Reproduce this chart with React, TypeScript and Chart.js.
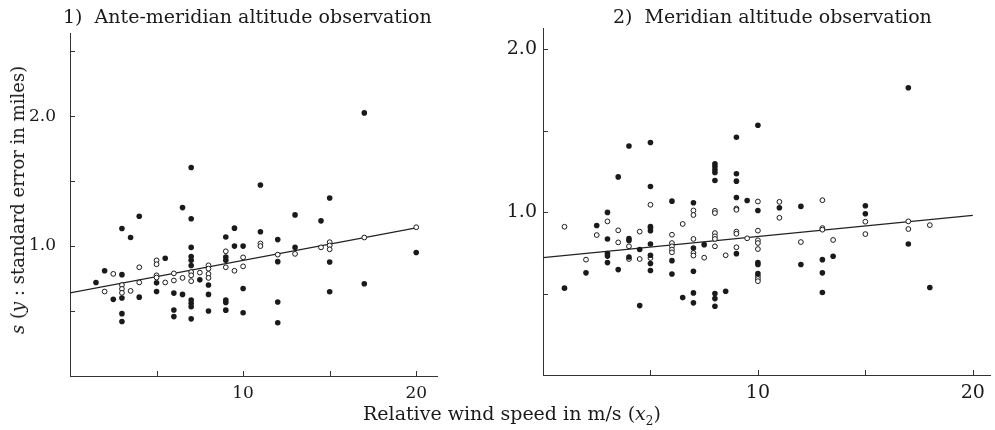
import React, { useEffect, useRef } from "react";
import { Chart, registerables } from "chart.js";
Chart.register(...registerables);

const FONT_FAMILY = '"DejaVu Serif", "Liberation Serif", serif';
const INK = "#1a1a1a";

// ---------- Panel 1: Ante-meridian altitude observation ----------
const p1FilledX = [1.5, 2, 2.5, 3, 3, 3, 3, 3, 3.5, 4, 4, 5, 5, 5.5, 6, 6, 6, 6.5, 6.5, 7, 7, 7, 7, 7, 7, 7, 7, 7, 7, 7.5, 8, 8, 8, 9, 9, 9, 9, 9, 9, 9.5, 9.5, 10, 10, 10, 11, 11, 12, 12, 12, 12, 13, 13, 14.5, 15, 15, 15, 17, 17, 20];
const p1FilledY = [0.72, 0.81, 0.59, 1.135, 0.78, 0.6, 0.48, 0.42, 1.066, 1.23, 0.607, 0.717, 0.65, 0.906, 0.638, 0.508, 0.457, 1.296, 0.628, 1.605, 1.21, 0.99, 0.92, 0.89, 0.85, 0.584, 0.56, 0.533, 0.44, 0.74, 0.7, 0.628, 0.5, 1.07, 0.916, 0.89, 0.584, 0.566, 0.507, 1.138, 1.0, 1.0, 0.673, 0.487, 1.47, 1.11, 1.05, 0.88, 0.57, 0.41, 1.24, 0.99, 1.194, 1.37, 0.877, 0.648, 2.025, 0.71, 0.95];
const p1OpenX = [2, 2.5, 3, 3, 3, 3.5, 4, 4, 5, 5, 5, 5, 5.5, 6, 6, 6.5, 7, 7, 7, 7.5, 8, 8, 8, 8, 9, 9, 9.5, 10, 10, 11, 11, 12, 13, 14.5, 15, 15, 15, 17, 20];
const p1OpenY = [0.65, 0.786, 0.7, 0.67, 0.64, 0.655, 0.837, 0.72, 0.89, 0.86, 0.775, 0.758, 0.72, 0.79, 0.735, 0.755, 0.8, 0.775, 0.73, 0.796, 0.852, 0.826, 0.786, 0.755, 0.96, 0.837, 0.81, 0.913, 0.844, 1.02, 1.0, 0.934, 0.94, 0.99, 1.03, 1.005, 0.975, 1.066, 1.145];
const p1LineX = [0, 20];
const p1LineY = [0.64, 1.14];

// ---------- Panel 2: Meridian altitude observation ----------
const p2FilledX = [1, 2, 2.5, 3, 3, 3, 3, 3, 3.5, 3.5, 4, 4, 4, 4, 4.5, 4.5, 5, 5, 5, 5, 5, 5, 5, 5, 6, 6, 6, 6.5, 7, 7, 7, 7, 7, 7.5, 8, 8, 8, 8, 8, 8, 8, 8, 8.5, 9, 9, 9, 9, 9, 9.5, 10, 10, 10, 10, 10, 11, 12, 12, 13, 13, 13, 13.5, 15, 15, 17, 17, 18];
const p2FilledY = [0.533, 0.627, 0.918, 0.998, 0.835, 0.745, 0.73, 0.69, 1.216, 0.647, 1.406, 0.837, 0.826, 0.724, 0.77, 0.426, 1.427, 1.157, 0.912, 0.886, 0.804, 0.735, 0.684, 0.641, 1.067, 0.702, 0.62, 0.475, 1.057, 0.78, 0.637, 0.504, 0.443, 0.8, 1.296, 1.28, 1.26, 1.243, 1.194, 0.5, 0.469, 0.422, 0.514, 1.459, 1.235, 1.19, 1.09, 0.745, 1.071, 1.533, 1.01, 0.69, 0.678, 0.622, 1.027, 1.035, 0.678, 0.708, 0.627, 0.506, 0.729, 1.039, 0.99, 1.763, 0.804, 0.537];
const p2OpenX = [1, 2, 2.5, 3, 3.5, 3.5, 4, 4, 4.5, 4.5, 5, 5, 5, 6, 6, 6, 6, 6, 6.5, 7, 7, 7, 7, 7, 7.5, 8, 8, 8, 8, 8, 8, 8.5, 9, 9, 9, 9, 9, 9.5, 10, 10, 10, 10, 10, 10, 10, 10, 11, 11, 12, 13, 13, 13, 13.5, 15, 15, 17, 17, 18];
const p2OpenY = [0.91, 0.708, 0.859, 0.943, 0.888, 0.814, 0.79, 0.712, 0.88, 0.712, 1.045, 0.902, 0.718, 0.861, 0.81, 0.79, 0.77, 0.753, 0.927, 1.01, 0.982, 0.835, 0.749, 0.733, 0.72, 1.008, 0.994, 0.871, 0.851, 0.835, 0.79, 0.735, 1.022, 1.014, 0.88, 0.867, 0.784, 0.839, 1.065, 0.886, 0.827, 0.81, 0.773, 0.606, 0.59, 0.576, 1.063, 0.965, 0.816, 1.073, 0.902, 0.892, 0.829, 0.941, 0.865, 0.943, 0.896, 0.92];
const p2LineX = [0, 20];
const p2LineY = [0.72, 0.98];

// ---------- Axis ticks ----------
const xTickMarks = [5, 10, 15, 20];
const xTickLabels = [10, 20];
const yTickMarks = [0.5, 1.0, 1.5, 2.0, 2.5];
const yTickLabels = [1.0, 2.0];

const zip = (xs: number[], ys: number[]) => xs.map((x, i) => ({ x, y: ys[i] }));

const inwardTicks = {
  id: "inwardTicks",
  afterDatasetsDraw(chart: any) {
    const { ctx, chartArea, scales } = chart;
    const xs = scales.x;
    const ys = scales.y;
    ctx.save();
    ctx.strokeStyle = "#333";
    ctx.lineWidth = 1;
    ctx.beginPath();
    xTickMarks.forEach((v) => {
      if (v > xs.max) return;
      const px = Math.round(xs.getPixelForValue(v)) + 0.5;
      ctx.moveTo(px, chartArea.bottom);
      ctx.lineTo(px, chartArea.bottom - 5);
    });
    yTickMarks.forEach((v) => {
      if (v > ys.max) return;
      const py = Math.round(ys.getPixelForValue(v)) + 0.5;
      ctx.moveTo(chartArea.left, py);
      ctx.lineTo(chartArea.left + 5, py);
    });
    ctx.stroke();
    ctx.restore();
  },
};

type PanelProps = {
  left: number;
  width: number;
  yAxisWidth: number;
  padRight: number;
  padTop: number;
  bottom: number;
  xMax: number;
  yMax: number;
  filled: { x: number; y: number }[];
  open: { x: number; y: number }[];
  line: { x: number; y: number }[];
  fontSize: number;
  yPad: number;
};

function Panel(p: PanelProps) {
  const ref = useRef<HTMLCanvasElement | null>(null);
  useEffect(() => {
    if (!ref.current) return;
    const font = { family: FONT_FAMILY, size: p.fontSize };
    const chart = new Chart(ref.current, {
      type: "scatter",
      data: {
        datasets: [
          {
            data: p.filled,
            pointRadius: 2.8,
            pointBackgroundColor: INK,
            pointBorderColor: INK,
            pointBorderWidth: 0,
          },
          {
            data: p.open,
            pointRadius: 2.4,
            pointBackgroundColor: "#ffffff",
            pointBorderColor: INK,
            pointBorderWidth: 1,
          },
          {
            data: p.line,
            showLine: true,
            borderColor: "#222",
            borderWidth: 1.2,
            pointRadius: 0,
          } as any,
        ],
      },
      options: {
        responsive: false,
        animation: false,
        events: [],
        layout: { padding: { left: 0, right: p.padRight, top: p.padTop, bottom: 0 } },
        plugins: {
          legend: { display: false },
          tooltip: { enabled: false },
          title: { display: false },
        },
        scales: {
          x: {
            type: "linear",
            min: 0,
            max: p.xMax,
            grid: { display: false, drawTicks: false },
            border: { display: true, color: "#333", width: 1 },
            ticks: {
              font,
              color: INK,
              padding: 7,
              maxRotation: 0,
              autoSkip: false,
              callback: (v: any) => String(v),
            },
            afterBuildTicks: (s: any) => {
              s.ticks = xTickLabels.map((v) => ({ value: v }));
            },
            afterFit: (s: any) => {
              s.height = p.bottom;
            },
          },
          y: {
            type: "linear",
            min: 0,
            max: p.yMax,
            grid: { display: false, drawTicks: false },
            border: { display: true, color: "#333", width: 1 },
            ticks: {
              font,
              color: INK,
              padding: p.yPad,
              autoSkip: false,
              callback: (v: any) => Number(v).toFixed(1),
            },
            afterBuildTicks: (s: any) => {
              s.ticks = yTickLabels.map((v) => ({ value: v }));
            },
            afterFit: (s: any) => {
              s.width = p.yAxisWidth;
            },
          },
        },
      },
      plugins: [inwardTicks],
    } as any);
    return () => chart.destroy();
  }, []);
  return (
    <canvas
      ref={ref}
      width={p.width}
      height={430}
      style={{ position: "absolute", left: p.left, top: 0, width: p.width, height: 430 }}
    />
  );
}

const textBase: React.CSSProperties = {
  position: "absolute",
  fontFamily: FONT_FAMILY,
  color: INK,
  whiteSpace: "pre",
  lineHeight: 1,
};

export default function App() {
  return (
    <div
      style={{
        position: "absolute",
        left: 0,
        top: 0,
        width: 995,
        height: 430,
        background: "#ffffff",
        overflow: "hidden",
      }}
    >
      <Panel
        left={0}
        width={480}
        yAxisWidth={70}
        padRight={43}
        padTop={33}
        bottom={54}
        xMax={21.2}
        yMax={2.64}
        filled={zip(p1FilledX, p1FilledY)}
        open={zip(p1OpenX, p1OpenY)}
        line={zip(p1LineX, p1LineY)}
        fontSize={17}
        yPad={14}
      />
      <Panel
        left={480}
        width={515}
        yAxisWidth={63}
        padRight={0}
        padTop={28}
        bottom={55}
        xMax={20.8}
        yMax={2.13}
        filled={zip(p2FilledX, p2FilledY)}
        open={zip(p2OpenX, p2OpenY)}
        line={zip(p2LineX, p2LineY)}
        fontSize={19}
        yPad={6}
      />
      <div style={{ ...textBase, left: 63, top: 7, fontSize: 19 }}>{"1)  Ante-meridian altitude observation"}</div>
      <div style={{ ...textBase, left: 613, top: 7, fontSize: 19 }}>{"2)  Meridian altitude observation"}</div>
      <div style={{ ...textBase, left: 363, top: 404, fontSize: 19 }}>
        {"Relative wind speed in m/s ("}
        <i>x</i>
        <sub style={{ fontSize: 12 }}>2</sub>
        {")"}
      </div>
      <div
        style={{
          ...textBase,
          left: 18,
          top: 200,
          fontSize: 18,
          transform: "translate(-50%, -50%) rotate(-90deg)",
        }}
      >
        <i>s</i>
        {" ("}
        <i>y</i>
        {" : standard error in miles)"}
      </div>
    </div>
  );
}
